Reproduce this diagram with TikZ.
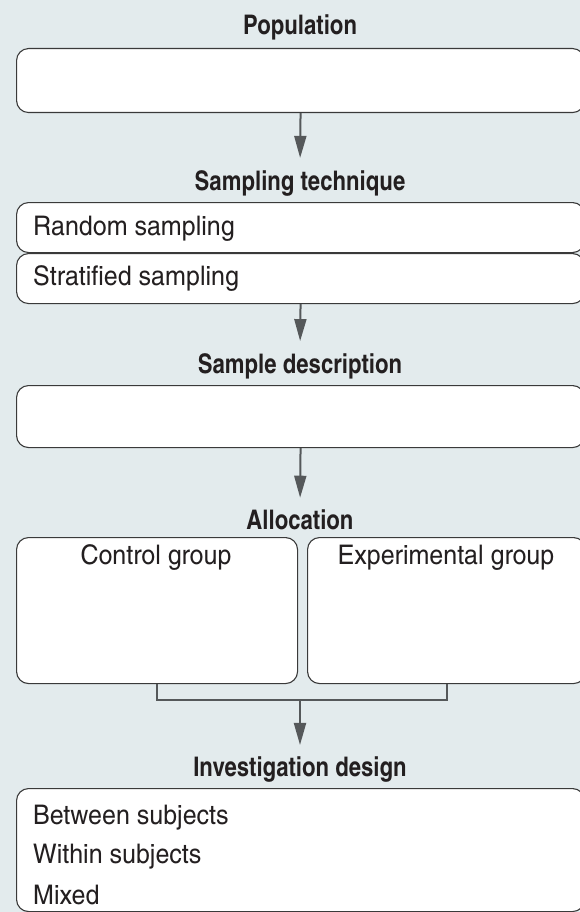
\documentclass[tikz,border=0pt]{standalone}
\usepackage{fontspec}
\setmainfont{texgyreheroscn}[Extension=.otf, UprightFont=*-regular, BoldFont=*-bold]
\newfontfamily\itemfont{texgyreheroscn}[Extension=.otf, UprightFont=*-regular, FakeStretch=1.13]
\usetikzlibrary{arrows.meta}
\definecolor{bgc}{HTML}{E3EBED}
\definecolor{edgec}{HTML}{3A3A3A}
\definecolor{arrc}{HTML}{55585A}
\definecolor{txtc}{HTML}{231F20}

\begin{document}
\begin{tikzpicture}[x=1pt,y=-1pt,
  panel/.style={draw=edgec, line width=1.1pt, fill=white, rounded corners=12pt,
    inner sep=0pt, anchor=north west},
  head/.style={font=\fontsize{27}{32}\selectfont\bfseries, text=txtc, inner sep=0pt},
  lbl/.style={font=\itemfont\fontsize{27}{32}\selectfont, text=txtc, inner sep=0pt},
  item/.style={lbl, anchor=west},
  flow/.style={draw=arrc, line width=2pt, shorten >=12pt,
    -{Triangle[length=22pt,width=12pt]}},
  link/.style={draw=arrc, line width=2pt}]
\fill[bgc] (0,0) rectangle (580,912);
\useasboundingbox (0,0) rectangle (580,912);
\clip (0,0) rectangle (580,912);

% population
\node[head] (tpop) at (300,27) {Population};
\node[panel, minimum width=568pt, minimum height=64pt] (pop) at (16,48) {};

% sampling technique
\node[head] (tsamp) at (300,183) {Sampling technique};
\node[panel, minimum width=568pt, minimum height=50pt] (rand) at (16,202) {};
\node[panel, minimum width=568pt, minimum height=50pt] (strat) at (16,253) {};
\node[item] (lrand) at (33,229) {Random sampling};
\node[item] (lstrat) at (33,279) {Stratified sampling};

% sample description
\node[head] (tdesc) at (300,366) {Sample description};
\node[panel, minimum width=568pt, minimum height=62pt] (desc) at (16,385) {};

% allocation
\node[head] (talloc) at (300,520) {Allocation};
\node[panel, minimum width=281pt, minimum height=146pt] (ctrl) at (16,537) {};
\node[panel, minimum width=278pt, minimum height=146pt] (exp) at (307,537) {};
\node[lbl] (lctrl) at (156,558) {Control group};
\node[lbl] (lexp) at (446,558) {Experimental group};

% investigation design
\node[head] (tinv) at (300,770) {Investigation design};
\node[panel, minimum width=568pt, minimum height=123pt] (inv) at (16,788) {};
\node[item] (lbet) at (33,818) {Between subjects};
\node[item] (lwith) at (33,857) {Within subjects};
\node[item] (lmix) at (33,895) {Mixed};

% connectors
\draw[flow] (pop.south) -- (tsamp.north);
\draw[flow] (strat.south) -- (tdesc.north);
\draw[flow] (desc.south) -- (talloc.north);
\coordinate (join) at (300,700);
\draw[link] (ctrl.south) |- (join) -| (exp.south);
\draw[flow] (join) -- (tinv.north);
\end{tikzpicture}
\end{document}
